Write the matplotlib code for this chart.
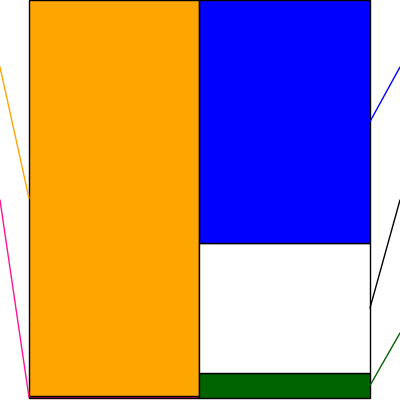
import matplotlib
matplotlib.use("Agg")
import matplotlib.pyplot as plt

# balance sheet composition (% of total)
left_names = ["Liabilities & equity", "Other"]
left_values = [99.6, 0.4]
left_colors = ["#FFA500", "#FF1493"]

right_names = ["Current assets", "Fixed assets", "Deferred"]
right_values = [6.3, 32.6, 61.1]
right_colors = ["#006400", "#FFFFFF", "#0000FF"]
right_line_colors = ["#006400", "#000000", "#0000FF"]

# where each connector ends (axes fraction), label side
left_label_y = [0.8325, 0.5]
right_label_y = [0.1675, 0.5, 0.8325]

fig = plt.figure(figsize=(4, 4), dpi=100)
ax = fig.add_axes([0, 0, 1, 1])

# left stack, drawn top-down: orange on top of pink
bottom = 0
seg_mid_left = []
for val, col in zip(left_values[::-1], left_colors[::-1]):
    ax.bar(0, val, bottom=bottom, width=1, align="edge", color=col,
           edgecolor="black", linewidth=1)
    seg_mid_left.append(bottom + val / 2)
    bottom += val
seg_mid_left = seg_mid_left[::-1]

bottom = 0
seg_mid_right = []
for val, col in zip(right_values, right_colors):
    ax.bar(1, val, bottom=bottom, width=1, align="edge", color=col,
           edgecolor="black", linewidth=1)
    seg_mid_right.append(bottom + val / 2)
    bottom += val

# connector lines
for mid, ly, col in zip(seg_mid_left, left_label_y, left_colors):
    ax.annotate("", xy=(0, mid), xycoords="data",
                xytext=(0, ly), textcoords="axes fraction",
                arrowprops=dict(arrowstyle="-", color=col, lw=1,
                                shrinkA=0, shrinkB=0))
for mid, ly, col in zip(seg_mid_right, right_label_y, right_line_colors):
    ax.annotate("", xy=(2, mid), xycoords="data",
                xytext=(1, ly), textcoords="axes fraction",
                arrowprops=dict(arrowstyle="-", color=col, lw=1,
                                shrinkA=0, shrinkB=0))

ax.set_xlim(-0.17, 2.176)
ax.set_ylim(-0.5, 100)
ax.axis("off")

fig.savefig("out.png", dpi=100)
